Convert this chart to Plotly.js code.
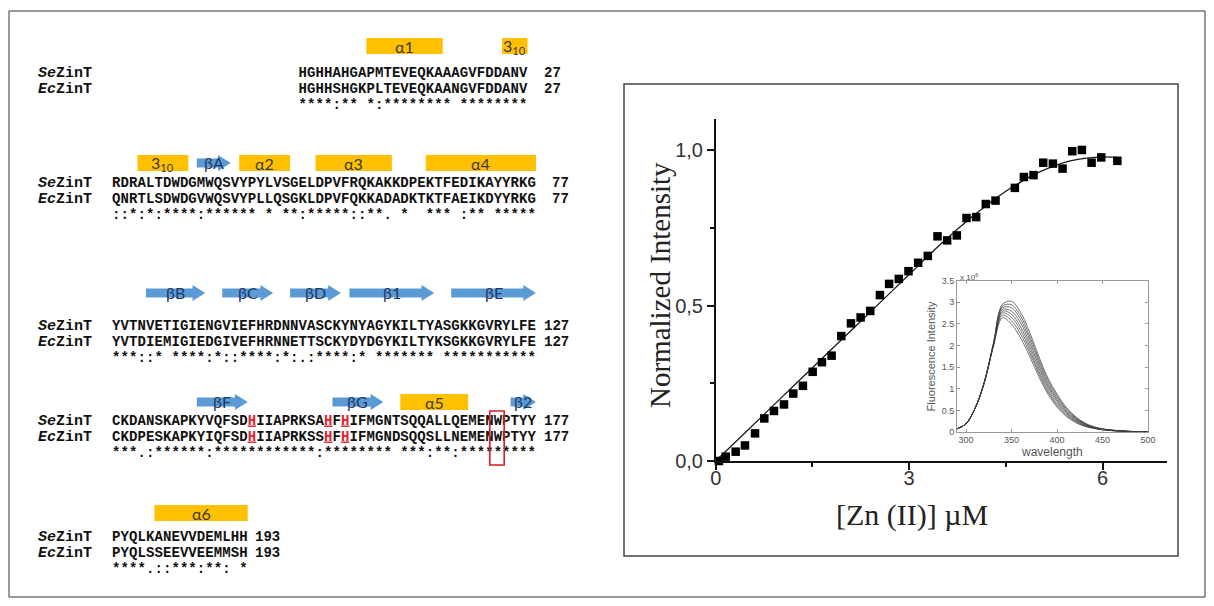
<!DOCTYPE html>
<html><head><meta charset="utf-8">
<script src="https://cdn.plot.ly/plotly-3.0.1.min.js"></script>
<style>html,body{margin:0;padding:0;background:#fff}#chart{width:1214px;height:606px}</style>
</head><body><div id="chart"></div>
<script>
// ===================== DATA =====================
// Zn(II) titration (main chart)
const znConc = [0.05,0.155,0.31,0.454,0.61,0.754,0.904,1.059,1.203,1.353,1.504,1.648,1.798,1.948,2.098,2.248,2.397,2.547,2.69,2.84,2.99,3.14,3.29,3.44,3.59,3.74,3.89,4.04,4.19,4.34,4.64,4.78,4.93,5.08,5.23,5.38,5.53,5.68,5.83,5.98,6.23];
const normIntensity = [0.0,0.014,0.030,0.050,0.089,0.137,0.161,0.182,0.217,0.242,0.287,0.318,0.339,0.402,0.443,0.462,0.483,0.534,0.570,0.586,0.611,0.638,0.660,0.723,0.710,0.726,0.782,0.785,0.827,0.838,0.879,0.914,0.920,0.960,0.957,0.941,0.997,1.001,0.960,0.977,0.966];
// fitted binding curve
const fitConc = [0,0.5,1,1.5,2,2.5,3,3.5,4,4.25,4.5,4.75,5,5.25,5.5,5.75,6,6.25];
const fitIntensity = [0,0.10,0.20,0.30,0.40,0.50,0.60,0.70,0.79,0.83,0.868,0.90,0.928,0.950,0.966,0.975,0.979,0.977];

// Inset: fluorescence spectra (x 10^6)
const wavelength = [290,300,310,320,330,340,350,360,370,380,390,400,410,420,430,440,450,460,480,500];
const spec1 = [0.08,0.20,0.56,1.15,2.05,2.95,3.02,2.76,2.30,1.75,1.25,0.88,0.58,0.37,0.22,0.13,0.08,0.05,0.02,0.01];
const spec2 = [0.08,0.20,0.56,1.15,2.04,2.91,2.94,2.68,2.22,1.68,1.20,0.84,0.55,0.35,0.21,0.12,0.08,0.05,0.02,0.01];
const spec3 = [0.08,0.20,0.56,1.15,2.03,2.87,2.87,2.60,2.14,1.62,1.14,0.79,0.52,0.33,0.20,0.12,0.07,0.05,0.02,0.01];
const spec4 = [0.08,0.20,0.56,1.15,2.02,2.83,2.79,2.52,2.06,1.55,1.09,0.75,0.49,0.31,0.19,0.11,0.07,0.05,0.02,0.01];
const spec5 = [0.08,0.20,0.56,1.15,2.01,2.79,2.72,2.43,1.98,1.48,1.04,0.71,0.46,0.29,0.18,0.11,0.07,0.04,0.02,0.01];
const spec6 = [0.08,0.20,0.56,1.15,2.00,2.75,2.65,2.35,1.90,1.41,0.98,0.66,0.43,0.27,0.16,0.10,0.06,0.04,0.02,0.01];
const spec7 = [0.08,0.20,0.56,1.15,1.99,2.70,2.57,2.26,1.83,1.35,0.93,0.62,0.40,0.25,0.15,0.10,0.06,0.04,0.02,0.01];
const spec8 = [0.08,0.20,0.56,1.15,1.98,2.64,2.49,2.17,1.75,1.28,0.88,0.58,0.37,0.23,0.14,0.09,0.06,0.04,0.02,0.01];
const spectra = [spec1,spec2,spec3,spec4,spec5,spec6,spec7,spec8];

// Sequence alignment
const seqNames = ['<i>Se</i>ZinT','<i>Ec</i>ZinT'];
const seZinT = ['HGHHAHGAPMTEVEQKAAAGVFDDANV',
  'RDRALTDWDGMWQSVYPYLVSGELDPVFRQKAKKDPEKTFEDIKAYYRKG',
  'YVTNVETIGIENGVIEFHRDNNVASCKYNYAGYKILTYASGKKGVRYLFE',
  'CKDANSKAPKYVQFSDHIIAPRKSAHFHIFMGNTSQQALLQEMENWPTYY',
  'PYQLKANEVVDEMLHH'];
const ecZinT = ['HGHHSHGKPLTEVEQKAANGVFDDANV',
  'QNRTLSDWDGVWQSVYPLLQSGKLDPVFQKKADADKTKTFAEIKDYYRKG',
  'YVTDIEMIGIEDGIVEFHRNNETTSCKYDYDGYKILTYKSGKKGVRYLFE',
  'CKDPESKAPKYIQFSDHIIAPRKSSHFHIFMGNDSQQSLLNEMENWPTYY',
  'PYQLSSEEVVEEMMSH'];
const conservation = ['****:** *:******** ********',
  '::*:*:****:****** * **:*****::**. *  *** :** *****',
  '***::* ****:*::****:*:.:****:* ******* ***********',
  '***.:******:************:******** ***:**:*********',
  '****.::***:**: *'];
const blockEndNum = [27,77,127,177,193];
const zincLigands = [144,153,155];
const boxedResidue = 173;
// secondary structure elements (residue numbers)
const ssLabels = ['α1','3<sub>10</sub>','3<sub>10</sub>','βA','α2','α3','α4','βB','βC','βD','β1','βE','βF','βG','α5','β2','α6'];
const ssKind   = ['H','H','H','E','H','H','H','E','E','E','E','E','E','E','H','E','H'];
const ssStart  = [9,25,31,38,43,52,65,82,91,99,106,118,138,154,162,175,183];
const ssEnd    = [17,27,36,41,48,60,77,88,96,104,115,127,143,159,169,177,193];

// ===================== LAYOUT CONSTANTS =====================
const W = 1214, H = 606;
const X0PX = 112, CHW = 8.48;            // alignment column origin & width (px)
const blockStartCol = [22,0,0,0,0];
const rowTop   = [73,183,326,421,537];   // y (px) of first sequence row in each block
const ssCenter = [46,163,293,402,513];   // y (px) of secondary-structure track
const rowStep = 16;
const blockFirstRes = blockEndNum.map((v,i)=> i===0 ? 1 : blockEndNum[i-1]+1);
function locate(res){
  let b = 0;
  for (let i=0;i<blockFirstRes.length;i++) if (res>=blockFirstRes[i]) b=i;
  return {b:b, col: blockStartCol[b] + res - blockFirstRes[b]};
}

// ===================== TRACES =====================
const traces = [];
traces.push({x: fitConc, y: fitIntensity, xaxis:'x', yaxis:'y', mode:'lines', line:{color:'#1a1a1a', width:1.3, shape:'spline'}, hoverinfo:'skip', cliponaxis:false});
traces.push({x: znConc, y: normIntensity, xaxis:'x', yaxis:'y', mode:'markers', marker:{symbol:'square', size:8.5, color:'#000'}, cliponaxis:false});
spectra.forEach(s => traces.push({x: wavelength, y: s, xaxis:'x2', yaxis:'y2', mode:'lines', line:{color:'rgba(60,60,60,0.9)', width:0.8, shape:'spline'}, hoverinfo:'skip'}));

// alignment characters
const tx=[], ty=[], tt=[], tc=[];
for (let b=0;b<seZinT.length;b++){
  const rows = [seZinT[b], ecZinT[b], conservation[b]];
  rows.forEach((str, r) => {
    for (let i=0;i<str.length;i++){
      const ch = str[i];
      if (ch===' ') continue;
      const res = blockFirstRes[b] + i;
      const lig = r<2 && zincLigands.indexOf(res)>=0;
      tx.push(blockStartCol[b] + i + 0.5);
      ty.push(rowTop[b] + r*rowStep);
      tt.push(lig ? '<u>'+ch+'</u>' : ch);
      tc.push(lig ? '#e0202a' : '#111');
    }
  });
}
traces.push({x:tx, y:ty, text:tt, mode:'text', xaxis:'x3', yaxis:'y3', textposition:'middle center',
  textfont:{family:'Liberation Mono', size:14, weight:'bold', color:tc}, hoverinfo:'skip', cliponaxis:false});

// ===================== SHAPES & ANNOTATIONS =====================
const shapes = [], annotations = [];
// outer frame and chart panel frame
shapes.push({type:'rect', xref:'paper', yref:'paper', x0:9/W, x1:1205/W, y0:1-597/H, y1:1-11/H, line:{color:'#333', width:1}});
shapes.push({type:'rect', xref:'paper', yref:'paper', x0:624/W, x1:1178/W, y0:1-556/H, y1:1-84/H, line:{color:'#444', width:1.5}});

for (let k=0;k<ssLabels.length;k++){
  const a = locate(ssStart[k]), e = locate(ssEnd[k]);
  const x0 = a.col, x1 = e.col + 1, c = ssCenter[a.b];
  if (ssKind[k]==='H'){
    shapes.push({type:'rect', xref:'x3', yref:'y3', x0:x0, x1:x1, y0:c-8, y1:c+8, fillcolor:'#FFC000', line:{width:0}, layer:'below'});
    annotations.push({xref:'x3', yref:'y3', x:(x0+x1)/2, y:c, text:ssLabels[k], showarrow:false, borderpad:0,
      font:{family:'Lato', size:16, color:'#3a3a3a'}});
  } else {
    const L = 1.5;
    const p = `M ${x0},${c-4.5} L ${x1-L},${c-4.5} L ${x1-L},${c-8} L ${x1},${c} L ${x1-L},${c+8} L ${x1-L},${c+4.5} L ${x0},${c+4.5} Z`;
    shapes.push({type:'path', xref:'x3', yref:'y3', path:p, fillcolor:'#5B9BD5', line:{width:0}, layer:'below'});
    annotations.push({xref:'x3', yref:'y3', x:(x0+x1)/2, y:c-1, text:ssLabels[k], showarrow:false, borderpad:0,
      font:{family:'Lato', size:16, color:'#1F3864'}});
  }
}
// boxed Trp
{
  const w = locate(boxedResidue);
  shapes.push({type:'rect', xref:'x3', yref:'y3', x0:w.col-0.45, x1:w.col+1.25, y0:rowTop[w.b]-10, y1:rowTop[w.b]+2*rowStep+12, line:{color:'#d42020', width:1.6}});
}
// sequence names and residue numbers
for (let b=0;b<seZinT.length;b++){
  for (let r=0;r<2;r++){
    annotations.push({xref:'x3', yref:'y3', x:(37-X0PX)/CHW, y:rowTop[b]+r*rowStep, xanchor:'left', text:seqNames[r], showarrow:false, borderpad:0,
      font:{family:'Liberation Mono', size:15, weight:'bold', color:'#111'}});
    const num = String(blockEndNum[b]);
    const col = blockStartCol[b] + seZinT[b].length + (num.length===2 ? 2 : 1);
    annotations.push({xref:'x3', yref:'y3', x:col-0.2, y:rowTop[b]+r*rowStep, xanchor:'left', text:num, showarrow:false, borderpad:0,
      font:{family:'Liberation Mono', size:14, weight:'bold', color:'#111'}});
  }
}
// main axis titles
annotations.push({xref:'paper', yref:'paper', x:912/W, y:1-515/H, xanchor:'center', yanchor:'middle', text:'[Zn (II)] µM', showarrow:false,
  font:{family:'Liberation Serif', size:30, color:'#222'}});
annotations.push({xref:'paper', yref:'paper', x:660/W, y:1-285/H, xanchor:'center', yanchor:'middle', text:'Normalized Intensity', textangle:-90, showarrow:false,
  font:{family:'Liberation Serif', size:29, color:'#222'}});
// inset labels
annotations.push({xref:'paper', yref:'paper', x:958/W, y:1-277/H, xanchor:'left', yanchor:'middle', text:'x 10<sup>6</sup>', showarrow:false,
  font:{family:'Liberation Sans', size:8, color:'#555'}});
annotations.push({xref:'paper', yref:'paper', x:1052/W, y:1-452/H, xanchor:'center', yanchor:'middle', text:'wavelength', showarrow:false,
  font:{family:'Liberation Sans', size:12, color:'#555'}});

// ===================== LAYOUT =====================
const axisFont = {family:'Liberation Sans', size:20, color:'#333'};
const layout = {
  width:W, height:H, margin:{l:0,r:0,t:0,b:0}, paper_bgcolor:'#fff', plot_bgcolor:'rgba(0,0,0,0)', showlegend:false,
  xaxis:{domain:[715.7/W, 1167/W], range:[0,7], anchor:'y', showline:true, linecolor:'#111', linewidth:1.5, ticks:'outside', ticklen:7, tickwidth:1.5, tickcolor:'#111',
    dtick:3, tick0:0, showgrid:false, zeroline:false, tickfont:axisFont, ticklabelstandoff:-9,
    minor:{dtick:1.5, tick0:0, ticks:'outside', ticklen:4, tickwidth:1.5, tickcolor:'#111'}},
  yaxis:{domain:[1-461/H, 1-119.2/H], range:[0,1.1], anchor:'x', showline:true, linecolor:'#111', linewidth:1.5, ticks:'outside', ticklen:7, tickwidth:1.5, tickcolor:'#111',
    dtick:0.5, tick0:0, tickformat:'.1f', labelalias:{'0.0':'0,0','0.5':'0,5','1.0':'1,0'}, showgrid:false, zeroline:false, tickfont:axisFont,
    minor:{dtick:0.25, tick0:0, ticks:'outside', ticklen:4, tickwidth:1.5, tickcolor:'#111'}},
  xaxis2:{domain:[957/W, 1148/W], range:[290,500], anchor:'y2', showline:true, mirror:'ticks', linecolor:'#999', linewidth:1, ticks:'inside', ticklen:3, tickcolor:'#999',
    dtick:50, tick0:300, showgrid:false, zeroline:false, tickfont:{family:'Liberation Sans', size:9, color:'#555'}, ticklabelstandoff:-1},
  yaxis2:{domain:[1-432.3/H, 1-280.5/H], range:[0,3.5], anchor:'x2', showline:true, mirror:'ticks', linecolor:'#999', linewidth:1, ticks:'inside', ticklen:3, tickcolor:'#999',
    dtick:0.5, tick0:0, showgrid:false, zeroline:false, tickfont:{family:'Liberation Sans', size:9, color:'#555'},
    title:{text:'Fluorescence Intensity', font:{family:'Liberation Sans', size:11, color:'#555'}, standoff:3}},
  xaxis3:{domain:[0,1], range:[-X0PX/CHW, (W-X0PX)/CHW], anchor:'y3', visible:false, fixedrange:true},
  yaxis3:{domain:[0,1], range:[H,0], anchor:'x3', visible:false, fixedrange:true},
  shapes:shapes, annotations:annotations
};
Plotly.newPlot('chart', traces, layout, {displayModeBar:false, responsive:false});
</script>
</body></html>
